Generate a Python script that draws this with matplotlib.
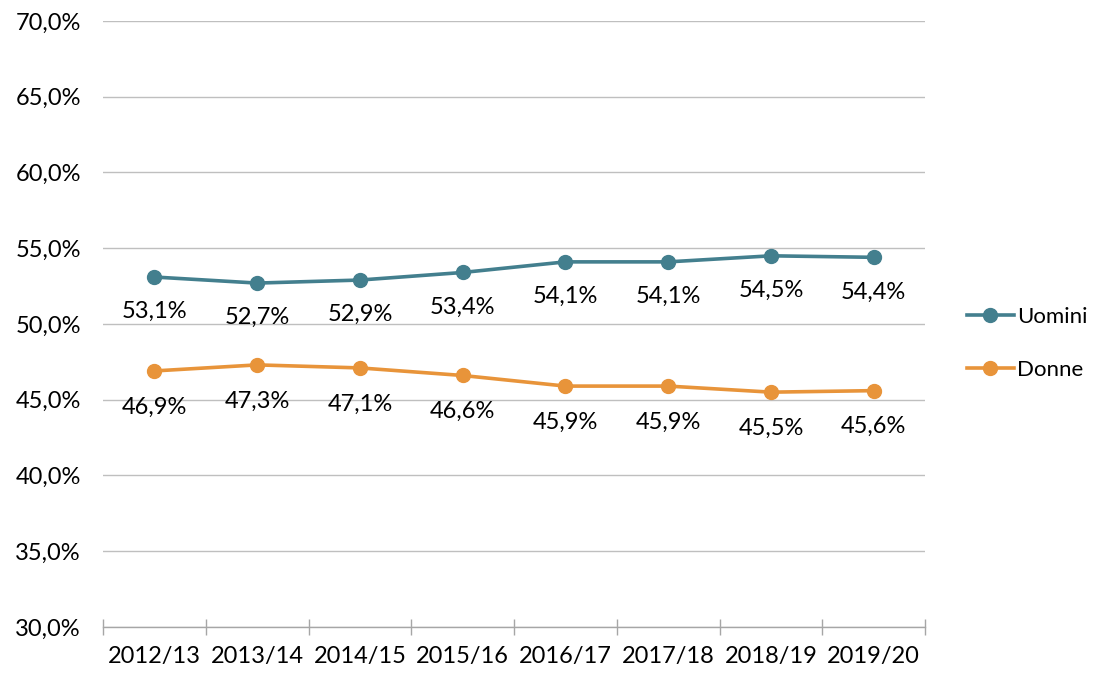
import matplotlib.pyplot as plt
from matplotlib.ticker import FuncFormatter, FixedLocator

plt.rcParams['font.family'] = ['Lato', 'DejaVu Sans']

anni = ['2012/13', '2013/14', '2014/15', '2015/16', '2016/17', '2017/18', '2018/19', '2019/20']
uomini = [53.1, 52.7, 52.9, 53.4, 54.1, 54.1, 54.5, 54.4]
donne = [46.9, 47.3, 47.1, 46.6, 45.9, 45.9, 45.5, 45.6]

col_u = '#437F8E'
col_d = '#E8943A'
fs = 17

fig = plt.figure(figsize=(11.04, 6.73), dpi=100)
ax = fig.add_axes([0.0933, 0.0684, 0.7447, 0.9004])

x = list(range(len(anni)))
ax.plot(x, uomini, color=col_u, lw=2.6, marker='o', ms=10, label='Uomini', zorder=3)
ax.plot(x, donne, color=col_d, lw=2.6, marker='o', ms=10, label='Donne', zorder=3)

# etichette dei valori sotto i punti
for xi, v in zip(x, uomini):
    ax.annotate(('%.1f%%' % v).replace('.', ','), (xi, v), xytext=(0, -25),
                textcoords='offset points', ha='center', va='center', fontsize=fs)
for xi, v in zip(x, donne):
    ax.annotate(('%.1f%%' % v).replace('.', ','), (xi, v), xytext=(0, -26),
                textcoords='offset points', ha='center', va='center', fontsize=fs)

ax.set_ylim(30, 70)
ax.set_yticks(range(30, 71, 5))
ax.yaxis.set_major_formatter(FuncFormatter(lambda v, p: ('%.1f%%' % v).replace('.', ',')))
ax.set_xlim(-0.5, len(anni) - 0.5)
ax.set_xticks(x)
ax.set_xticklabels(anni)
ax.xaxis.set_minor_locator(FixedLocator([i - 0.5 for i in range(len(anni) + 1)]))

ax.grid(axis='y', color='#BFBFBF', lw=1)
ax.set_axisbelow(True)
for s in ['top', 'right', 'left']:
    ax.spines[s].set_visible(False)
ax.spines['bottom'].set_color('#A6A6A6')
ax.spines['bottom'].set_linewidth(1)

ax.tick_params(axis='y', length=0, labelsize=fs, pad=16)
ax.tick_params(axis='x', which='major', length=0, labelsize=fs, pad=14)
ax.tick_params(axis='x', which='minor', direction='inout', length=11, color='#A6A6A6', width=1)

ax.legend(loc='center left', bbox_to_anchor=(0.876, 0.49), bbox_transform=fig.transFigure,
          frameon=False, fontsize=16, handlelength=2.1, handletextpad=0.15, labelspacing=1.5,
          borderpad=0, borderaxespad=0)

fig.savefig('out.png', dpi=100)
